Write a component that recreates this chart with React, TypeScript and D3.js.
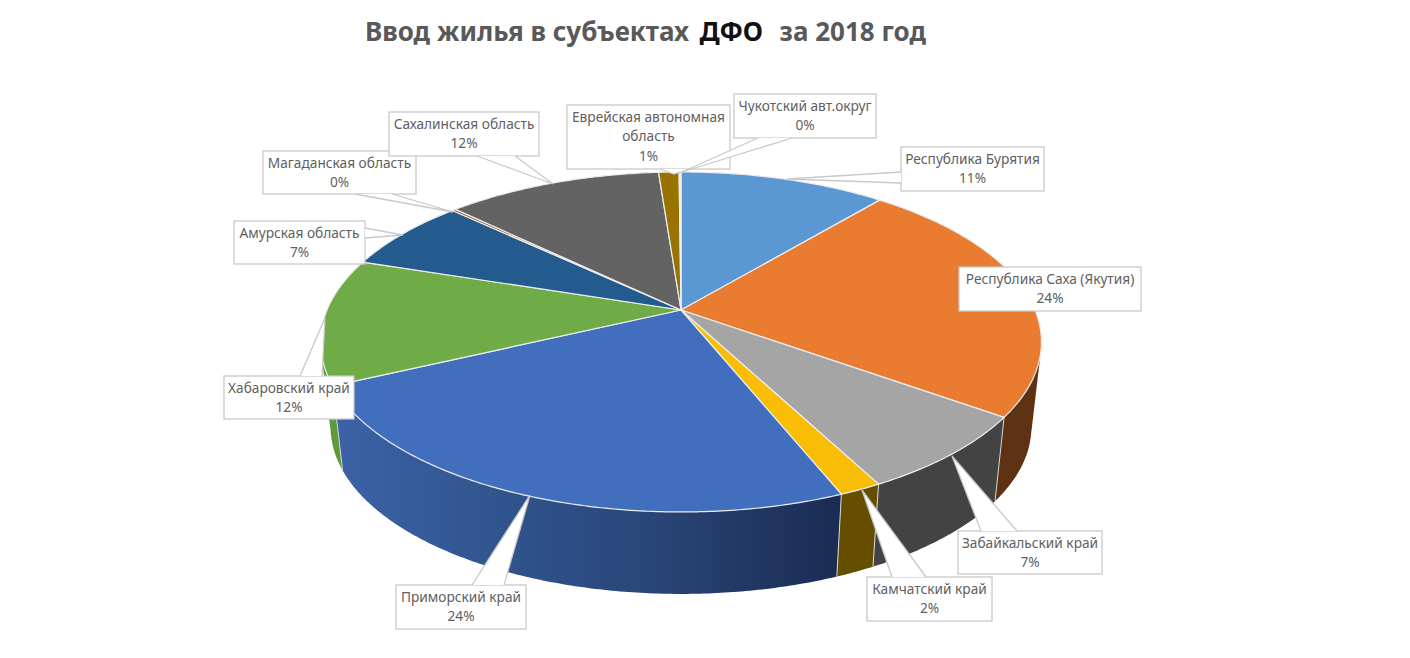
import React from 'react';
import * as d3 from 'd3';

// share of housing by region, clockwise from the top of the pie
const regions = [
  'Республика Бурятия',
  'Республика Саха (Якутия)',
  'Забайкальский край',
  'Камчатский край',
  'Приморский край',
  'Хабаровский край',
  'Амурская область',
  'Магаданская область',
  'Сахалинская область',
  'Еврейская автономная область',
  'Чукотский авт.округ',
];
const shares = [11.1, 23.8, 7.4, 1.6, 24.1, 12, 7, 0.2, 11.6, 1.1, 0.1];
const topColors = ['#5b97d3', '#e97c30', '#a5a5a5', '#f9bd05', '#416fbe', '#6fab46', '#235b8e', '#9e480e', '#636363', '#997300', '#f4e9b0'];
const sideColors = ['#3a6a96', '#5e3112', '#434343', '#664e00', 'url(#sideBlue)', '#5f9a3a', '#1a4268', '#6a300a', '#444444', '#664e00', '#8a8a60'];

// callout layout, same order as regions: [x, y, w, h] and pointer base a, base b, tip
const calloutOrder = [9, 10, 0, 1, 7, 8, 6, 5, 4, 3, 2];
const calloutBoxes: number[][] = [
  [901, 147, 143, 44],
  [959, 267, 182, 44],
  [958, 531, 144, 43],
  [867, 577, 125, 44],
  [396, 585, 130, 44],
  [224, 376, 130, 43],
  [234, 221, 131, 43],
  [263, 151, 153, 43],
  [389, 112, 150, 44],
  [567, 105, 163, 64],
  [734, 94, 142, 44],
];
const calloutPointers: (number[][] | null)[] = [
  [[901, 172], [901, 183], [787, 179]],
  null,
  [[981, 531], [1017, 531], [952, 456]],
  [[892, 577], [926, 577], [862, 490]],
  [[472, 585], [504, 585], [530, 495]],
  [[300, 376], [322, 376], [325, 318]],
  [[365, 228], [365, 238], [403, 235]],
  [[355, 194], [392, 194], [453, 212]],
  [[477, 156], [515, 156], [553, 184]],
  [[660, 169], [690, 169], [674, 174]],
  [[758, 138], [792, 138], [682, 172]],
];
const calloutLines = [
  ['Республика Бурятия'],
  ['Республика Саха (Якутия)'],
  ['Забайкальский край'],
  ['Камчатский край'],
  ['Приморский край'],
  ['Хабаровский край'],
  ['Амурская область'],
  ['Магаданская область'],
  ['Сахалинская область'],
  ['Еврейская автономная', 'область'],
  ['Чукотский авт.округ'],
];

const width = 1410;
const height = 658;
const cx = 681;
const cy = 310;
const radiusX = 354;
const radiusY = 164;
const persp = 0.188;

// perspective projection of the unit disc on to the page
const projectTop = (angle: number): [number, number] => {
  const x = Math.sin(angle);
  const y = -Math.cos(angle);
  const w = 1 - persp * y;
  return [cx + (radiusX * x) / w, cy + (radiusY * y) / w];
};
const projectBottom = (angle: number): [number, number] => {
  const [x, y] = projectTop(angle);
  return [cx + (x - cx) * 0.972, cy + (y - cy) * 0.98 + 86];
};

const line = d3.line<[number, number]>();
const arcAngles = (a0: number, a1: number) => {
  const n = Math.max(2, Math.ceil((a1 - a0) / 0.01));
  return d3.range(n + 1).map((i) => a0 + ((a1 - a0) * i) / n);
};

const pie = d3.pie<number>().sort(null).value((d) => d);
const slices = pie(shares);

const percent = d3.format('.0%');

const App = () => {
  // hull gives the straight silhouette where the wall meets the rim at the sides
  const sidePath = (a0: number, a1: number) => {
    const angles = arcAngles(a0, a1);
    const hull = d3.polygonHull([...angles.map(projectTop), ...angles.map(projectBottom)]);
    return line(hull as [number, number][]) + 'Z';
  };
  const topPath = (a0: number, a1: number) =>
    line([[cx, cy], ...arcAngles(a0, a1).map(projectTop)]) + 'Z';

  // walls painted back to front
  const walls = slices
    .map((s, i) => ({ s, i, depth: -Math.cos((s.startAngle + s.endAngle) / 2) }))
    .sort((a, b) => a.depth - b.depth);

  // seams on the visible front wall
  const seams = slices
    .map((s) => s.endAngle)
    .filter((a) => a > Math.PI * 0.6 && a < Math.PI * 1.4);

  return (
    <svg
      width={width}
      height={height}
      viewBox={`0 0 ${width} ${height}`}
      style={{ position: 'absolute', left: 0, top: 0, background: '#fff', fontFamily: '"Noto Sans", sans-serif' }}
    >
      <defs>
        <linearGradient id="sideBlue" gradientUnits="userSpaceOnUse" x1={340} y1={0} x2={845} y2={0}>
          <stop offset="0" stopColor="#3b62a6" />
          <stop offset="0.3" stopColor="#30558f" />
          <stop offset="0.6" stopColor="#2a4679" />
          <stop offset="1" stopColor="#192b52" />
        </linearGradient>
      </defs>

      <text x={365} y={41} fontSize={26} fontWeight={700} fill="#595959" xmlSpace="preserve">
        Ввод жилья в субъектах <tspan fill="#111" dx={-3}> ДФО </tspan>
        <tspan dx={3}> за 2018 год</tspan>
      </text>

      {walls.map(({ s, i }) => (
        <path key={regions[i]} d={sidePath(s.startAngle, s.endAngle)} fill={sideColors[i]} />
      ))}
      {seams.map((a) => {
        const p = projectTop(a);
        const q = projectBottom(a);
        return <line key={a} x1={p[0]} y1={p[1]} x2={q[0]} y2={q[1]} stroke="#d8d8d8" strokeWidth={1} />;
      })}
      {slices.map((s, i) => (
        <path
          key={regions[i]}
          d={topPath(s.startAngle, s.endAngle)}
          fill={topColors[i]}
          stroke="#eeeeee"
          strokeWidth={1.2}
          strokeLinejoin="round"
        />
      ))}

      {calloutOrder.map((i) => {
        const [x, y, w, h] = calloutBoxes[i];
        const pointer = calloutPointers[i];
        const rows = [...calloutLines[i], percent(Math.round(shares[i]) / 100)];
        return (
          <g key={regions[i]}>
            <rect x={x} y={y} width={w} height={h} fill="#fff" stroke="#c9c9c9" strokeWidth={1.3} />
            {pointer && (
              <>
                <polygon points={pointer.map((p) => p.join(',')).join(' ')} fill="#fff" />
                <polyline
                  points={[pointer[0], pointer[2], pointer[1]].map((p) => p.join(',')).join(' ')}
                  fill="none"
                  stroke="#c9c9c9"
                  strokeWidth={1.3}
                />
              </>
            )}
            {rows.map((row, r) => (
              <text
                key={r}
                x={x + w / 2}
                y={y + 17 + r * 19.3}
                textAnchor="middle"
                fontSize={13.7}
                fill="#5f5f5f"
              >
                {row}
              </text>
            ))}
          </g>
        );
      })}
    </svg>
  );
};

export default App;
